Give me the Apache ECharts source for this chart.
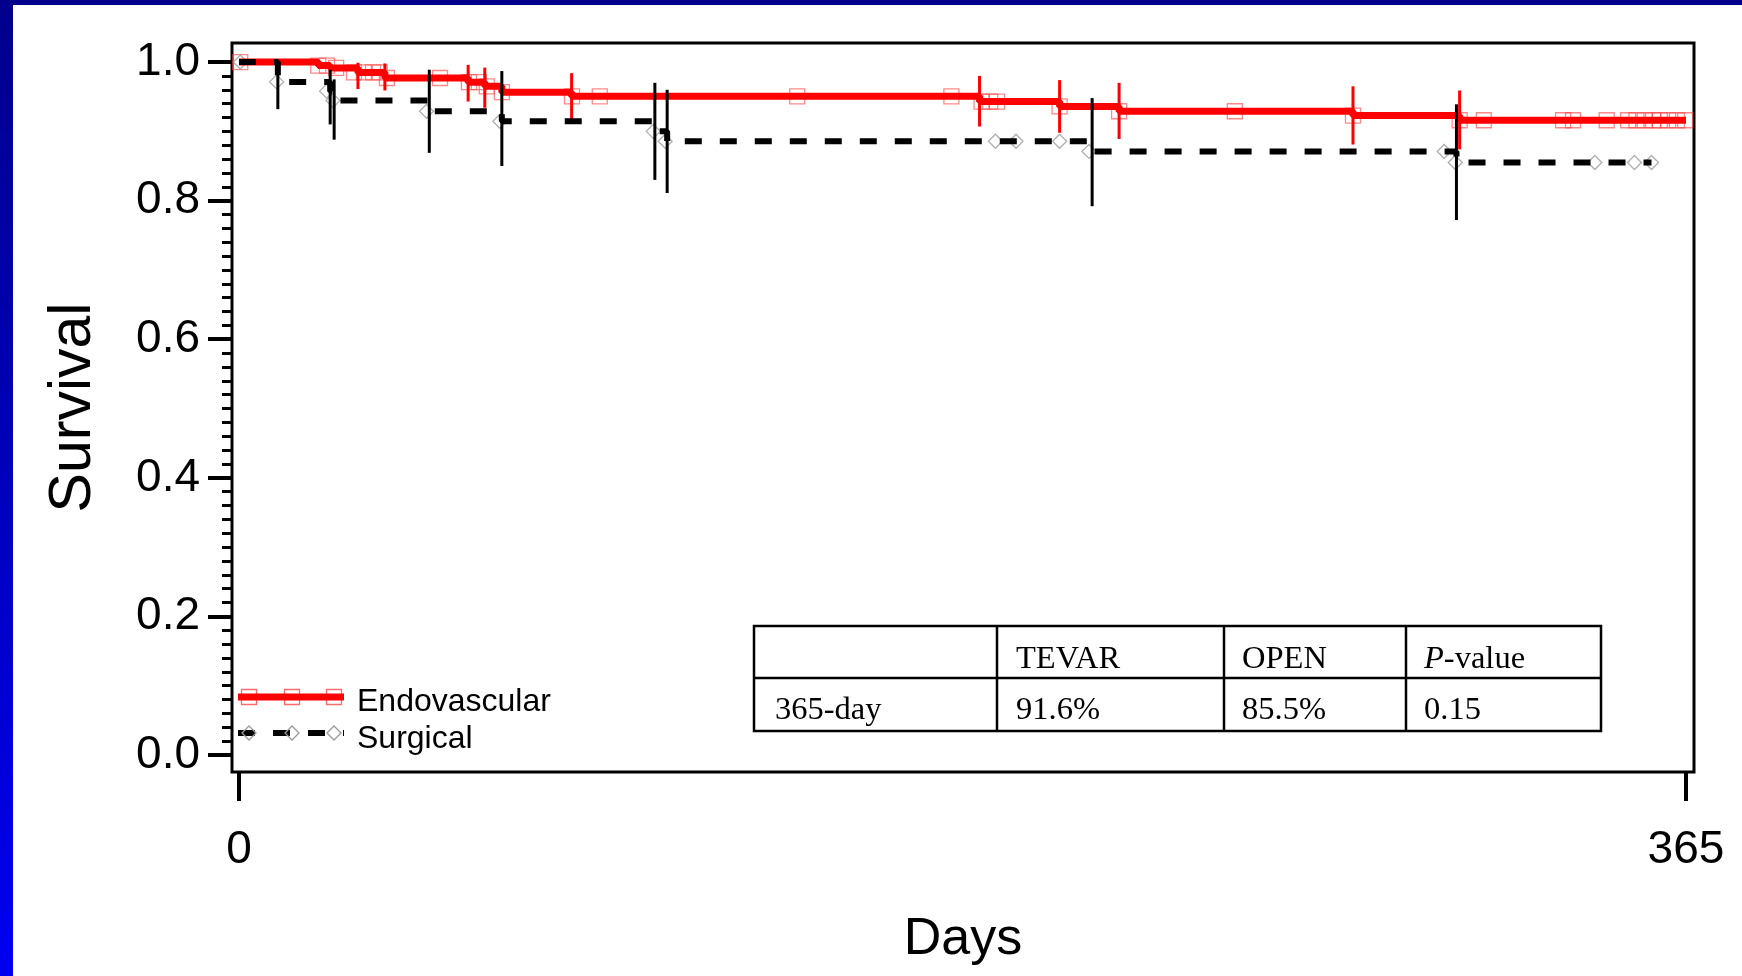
<!DOCTYPE html>
<html><head><meta charset="utf-8">
<script src="https://cdn.jsdelivr.net/npm/echarts@6/dist/echarts.min.js"></script>
<style>html,body{margin:0;padding:0;background:#fff;overflow:hidden}#c{width:1742px;height:976px}</style>
</head><body><div id="c"></div>
<script>
// ---- data ----
const endoSteps = [[0,1.0],[20,0.9949],[23,0.9915],[30,0.985],[36.8,0.977],[57.8,0.971],[62,0.965],[66.3,0.9565],[83.9,0.9506],[186.8,0.943],[207,0.936],[222,0.929],[281,0.9227],[307.9,0.916],[365,0.916]];
const surgSteps = [[0,1.0],[9.8,0.9714],[23,0.958],[24,0.9444],[48,0.929],[66.3,0.9145],[104.9,0.900],[108,0.8857],[215.2,0.871],[307.1,0.855],[356.3,0.855]];
const endoMarks = [[0.3,1.0],[20,0.9949],[22.2,0.9949],[24.5,0.9915],[29,0.985],[31.5,0.985],[33.8,0.985],[35.5,0.985],[37.3,0.977],[50.7,0.977],[58,0.971],[60.5,0.971],[62.5,0.965],[66.3,0.9565],[84,0.9506],[91,0.9506],[140.8,0.9506],[179.7,0.9506],[187.3,0.943],[189.5,0.943],[191.2,0.943],[207,0.936],[222,0.929],[251.2,0.929],[281,0.9227],[307.9,0.916],[314,0.916],[334,0.916],[336.5,0.916],[345,0.916],[350.4,0.916],[352.5,0.916],[354.6,0.916],[356.7,0.916],[358.4,0.916],[360.5,0.916],[362.7,0.916],[364.8,0.916]];
const surgMarks = [[0.3,1.0],[9.5,0.9714],[22.1,0.958],[23.7,0.9444],[47.3,0.929],[65.8,0.9145],[104.5,0.900],[107.5,0.8857],[190.8,0.8857],[196,0.8857],[207,0.8857],[214.4,0.871],[304,0.871],[306.8,0.855],[342,0.855],[352,0.855],[356.3,0.855]];
const endoCI = [[30,0.961,0.999],[36.8,0.959,0.998],[57.8,0.943,0.996],[62,0.934,0.992],[83.9,0.917,0.984],[186.8,0.907,0.980],[207,0.898,0.974],[222,0.889,0.970],[281,0.881,0.965],[307.9,0.874,0.959]];
const surgCI = [[9.8,0.932,0.999],[23,0.910,0.989],[24,0.888,0.975],[48,0.869,0.989],[66.3,0.850,0.987],[104.9,0.830,0.970],[108,0.811,0.960],[215.2,0.792,0.948],[307.1,0.772,0.939]];
const xTicks = [0, 365];
const yTicks = [0, 0.2, 0.4, 0.6, 0.8, 1.0];
const yMinorStep = 0.02;
const seriesNames = ['Endovascular', 'Surgical'];
const tableHeader = ['', 'TEVAR', 'OPEN', 'P-value'];
const tableRow = ['365-day', '91.6%', '85.5%', '0.15'];

// ---- build ----
const yMinor = [];
for (let v = 0; v <= 1.0001; v += yMinorStep) yMinor.push(Math.round(v * 100) / 100);

const SANS = 'Liberation Sans';
const SERIF = 'Liberation Serif';
const RED = '#ff0000';
const SQ = 'rgba(255,70,70,0.8)';
const DI = '#9a9a9a';

function ciRender(color) {
  return function (params, api) {
    const p1 = api.coord([api.value(0), api.value(1)]);
    const p2 = api.coord([api.value(0), api.value(2)]);
    return { type: 'line', shape: { x1: p1[0], y1: p1[1], x2: p2[0], y2: p2[1] },
             style: { stroke: color, lineWidth: 3 } };
  };
}

// table graphic
const tX = [754, 997, 1224, 1406, 1601], tY = [626, 678, 731];
const textX = [775, 1016, 1242, 1424];
const TFONT = 32.5;
const tableEls = [];
tableEls.push({ type: 'rect', shape: { x: tX[0], y: tY[0], width: tX[4] - tX[0], height: tY[2] - tY[0] },
  style: { fill: '#fff', stroke: '#000', lineWidth: 2.5 }, z: 100 });
tableEls.push({ type: 'line', shape: { x1: tX[0], y1: tY[1], x2: tX[4], y2: tY[1] }, style: { stroke: '#000', lineWidth: 2.5 }, z: 101 });
for (let i = 1; i < 4; i++) tableEls.push({ type: 'line', shape: { x1: tX[i], y1: tY[0], x2: tX[i], y2: tY[2] }, style: { stroke: '#000', lineWidth: 2.5 }, z: 101 });
tableHeader.forEach((t, i) => {
  if (!t) return;
  const txt = t === 'P-value' ? '{i|P}-value' : t;
  tableEls.push({ type: 'text', x: textX[i], y: 659, z: 102,
    style: { text: txt, font: TFONT + 'px ' + SERIF, fill: '#000', verticalAlign: 'middle', align: 'left',
      rich: { i: { fontStyle: 'italic', fontFamily: SERIF, fontSize: TFONT, fill: '#000' } } } });
});
tableRow.forEach((t, i) => {
  tableEls.push({ type: 'text', x: textX[i], y: 710, z: 102,
    style: { text: t, font: TFONT + 'px ' + SERIF, fill: '#000', verticalAlign: 'middle', align: 'left' } });
});

// legend graphic
const legEls = [];
const lgX = [249, 292, 334];
legEls.push({ type: 'line', shape: { x1: 238, y1: 697, x2: 344, y2: 697 }, style: { stroke: RED, lineWidth: 7 }, z: 100 });
lgX.forEach(x => legEls.push({ type: 'rect', shape: { x: x - 7.5, y: 697 - 7.5, width: 15, height: 15 }, style: { fill: 'none', stroke: SQ, lineWidth: 1.3 }, z: 99 }));
legEls.push({ type: 'line', shape: { x1: 238, y1: 733, x2: 344, y2: 733 }, style: { stroke: '#000', lineWidth: 6, lineDash: [17, 18] }, z: 100 });
lgX.forEach(x => legEls.push({ type: 'polygon', shape: { points: [[x, 726], [x + 7, 733], [x, 740], [x - 7, 733]] }, style: { fill: 'none', stroke: DI, lineWidth: 1.3 }, z: 101 }));
legEls.push({ type: 'text', x: 357, y: 702, z: 102, style: { text: seriesNames[0], font: '32px ' + SANS, fill: '#000', verticalAlign: 'middle' } });
legEls.push({ type: 'text', x: 357, y: 739, z: 102, style: { text: seriesNames[1], font: '32px ' + SANS, fill: '#000', verticalAlign: 'middle' } });

const chart = echarts.init(document.getElementById('c'), null, { renderer: 'canvas' });
chart.setOption({
  animation: false,
  backgroundColor: '#fff',
  grid: { left: 232, right: 48, top: 43, bottom: 204, show: true, borderColor: '#000', borderWidth: 3, backgroundColor: 'transparent', containLabel: false },
  xAxis: {
    type: 'value', min: -1.766, max: 367.02,
    name: 'Days', nameLocation: 'middle', nameGap: 168,
    nameTextStyle: { fontFamily: SANS, fontSize: 52, color: '#000', verticalAlign: 'middle' },
    axisLine: { show: false, onZero: false },
    splitLine: { show: false },
    axisTick: { show: true, customValues: xTicks, length: 29, lineStyle: { color: '#000', width: 4 } },
    axisLabel: { show: true, customValues: xTicks, margin: 55, fontFamily: SANS, fontSize: 46, color: '#000', formatter: v => String(v) }
  },
  yAxis: [{
    type: 'value', min: -0.0245, max: 1.0275,
    name: 'Survival', nameLocation: 'middle', nameGap: 158,
    nameTextStyle: { fontFamily: SANS, fontSize: 59, color: '#000', verticalAlign: 'middle', align: 'center' },
    axisLine: { show: false, onZero: false },
    splitLine: { show: false },
    axisTick: { show: true, customValues: yTicks, length: 24, lineStyle: { color: '#000', width: 4 } },
    axisLabel: { show: true, customValues: yTicks, margin: 32, fontFamily: SANS, fontSize: 46, color: '#000', formatter: v => v.toFixed(1) }
  }, {
    type: 'value', min: -0.0245, max: 1.0275, position: 'left', offset: 0,
    axisLine: { show: false, onZero: false }, splitLine: { show: false },
    axisTick: { show: true, customValues: yMinor, length: 10, lineStyle: { color: '#000', width: 3 } },
    axisLabel: { show: false }
  }],
  series: [
    { name: seriesNames[0] + ' markers', type: 'scatter', data: endoMarks, symbol: 'rect', symbolSize: 15, z: 2,
      itemStyle: { color: 'rgba(0,0,0,0)', borderColor: SQ, borderWidth: 1.3 }, silent: true },
    { name: seriesNames[1] + ' markers', type: 'scatter', data: surgMarks, symbol: 'diamond', symbolSize: 14, z: 2,
      itemStyle: { color: 'rgba(0,0,0,0)', borderColor: DI, borderWidth: 1.3 }, silent: true },
    { name: seriesNames[0], type: 'line', step: 'end', data: endoSteps, showSymbol: false, z: 3,
      lineStyle: { color: RED, width: 7 } },
    { name: seriesNames[0] + ' CI', type: 'custom', data: endoCI, renderItem: ciRender(RED), encode: { x: 0, y: [1, 2] }, z: 4 },
    { name: seriesNames[1], type: 'line', step: 'end', data: surgSteps, showSymbol: false, z: 5,
      lineStyle: { color: '#000', width: 6, type: [17, 18] } },
    { name: seriesNames[1] + ' CI', type: 'custom', data: surgCI, renderItem: ciRender('#000'), encode: { x: 0, y: [1, 2] }, z: 6 }
  ],
  graphic: [
    { type: 'rect', shape: { x: 0, y: 0, width: 13, height: 976 }, z: 200,
      style: { fill: new echarts.graphic.LinearGradient(0, 0, 0, 1, [{ offset: 0, color: '#00008c' }, { offset: 1, color: '#0000f0' }]) } },
    { type: 'rect', shape: { x: 0, y: 0, width: 1742, height: 5 }, z: 200, style: { fill: '#00008a' } },
    ...tableEls,
    ...legEls
  ]
});
</script></body></html>
